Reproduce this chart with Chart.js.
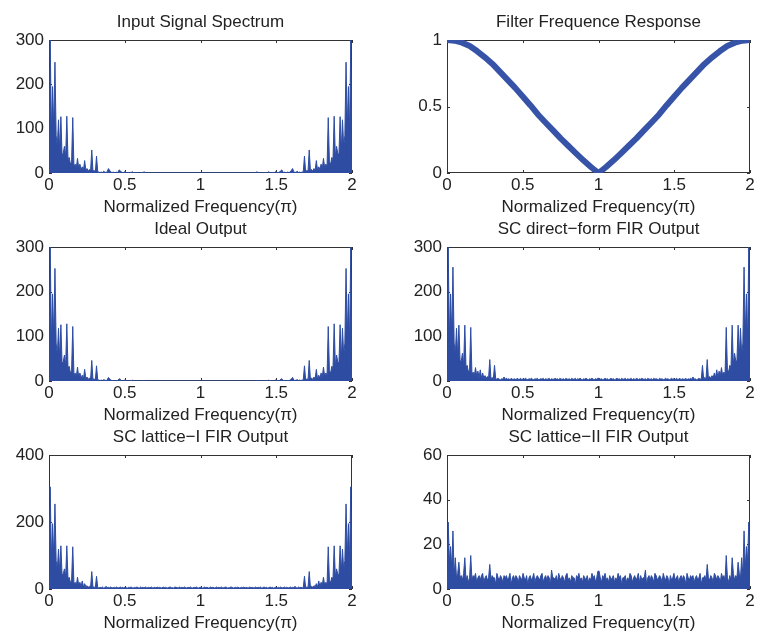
<!DOCTYPE html>
<html>
<head>
<meta charset="utf-8">
<script src="https://cdn.jsdelivr.net/npm/chart.js@4.4.1/dist/chart.umd.min.js"></script>
<style>
  body { margin: 0; background: #fff; width: 757px; height: 636px; position: relative; overflow: hidden; }
  canvas { position: absolute; }
</style>
</head>
<body>
<script>
// Ticks shared by all panels
const freqTicks = [0, 0.5, 1, 1.5, 2];
const freqLabel = 'Normalized Frequency(\u03c0)';

// Half spectra (0 .. 1), the picture is symmetric around 1
const inputHalf = [
  20, 300, 90, 195, 100, 250, 85, 60, 120, 50,
  127, 40, 45, 60, 35, 128, 30, 35, 20, 25,
  125, 15, 20, 12, 33, 10, 20, 8, 14, 6,
  28, 6, 10, 4, 8, 5, 52, 4, 6, 2,
  38, 3, 2, 1, 2, 1, 4, 2, 1, 3,
  10, 6, 2, 1, 2, 1, 0.5, 2, 1, 7,
  5, 2, 1, 0.5, 4, 1, 0.5, 1, 0.5, 0.5,
  3, 1, 0.5, 0.3, 0.5, 0.3, 0.5, 0.3, 1, 0.5,
  3, 0.5, 0.3, 0.2, 0.3, 0.2, 0.3, 0.2, 0.3, 0.2,
  0.3, 0.2, 0.3, 0.2, 0.3, 0.2, 0.3, 0.2, 0.3, 0.2,
  0.3, 0.2, 0.3, 0.2, 0.3, 0.2, 0.3, 0.2, 0.3, 0.2,
  0.3, 0.2, 0.3, 0.2, 0.3, 0.2, 0.3, 0.2, 0.3, 0.2,
  0.3, 0.2, 0.3, 0.2, 0.3, 0.2, 0.3, 0.2
];

const idealHalf = [
  20, 300, 85, 195, 95, 252, 85, 58, 118, 48,
  126, 40, 43, 58, 33, 128, 28, 33, 18, 23,
  122, 13, 18, 10, 31, 9, 18, 6, 13, 4,
  26, 5, 9, 3, 7, 4, 46, 3, 5, 2,
  34, 3, 2, 1, 2, 1, 3, 2, 1, 2,
  8, 5, 2, 1, 1, 1, 0.5, 1, 1, 5,
  4, 1, 0.5, 0.5, 3, 0.5, 0.3, 0.5, 0.3, 0.3,
  2, 0.5, 0.3, 0.2, 0.3, 0.2, 0.3, 0.2, 0.5, 0.3,
  1.5, 0.3, 0.2, 0.1, 0.2, 0.1, 0.2, 0.1, 0.2, 0.1,
  0.2, 0.1, 0.2, 0.1, 0.2, 0.1, 0.2, 0.1, 0.2, 0.1,
  0.2, 0.1, 0.2, 0.1, 0.2, 0.1, 0.2, 0.1, 0.2, 0.1,
  0.2, 0.1, 0.2, 0.1, 0.2, 0.1, 0.2, 0.1, 0.2, 0.1,
  0.2, 0.1, 0.2, 0.1, 0.2, 0.1, 0.2, 0.1
];

const directHalf = [
  25, 300, 90, 195, 100, 255, 85, 60, 118, 55,
  125, 45, 45, 62, 35, 125, 30, 35, 20, 25,
  120, 15, 20, 12, 30, 12, 22, 8, 25, 7,
  18, 7, 12, 6, 10, 6, 48, 5, 8, 5,
  35, 5, 4, 6, 4, 3, 5, 4, 9, 4,
  6, 4, 5, 3, 6, 4, 4, 5, 3, 6,
  4, 4, 6, 3, 5, 4, 6, 4, 3, 5,
  4, 6, 4, 3, 5, 4, 6, 3, 4, 5,
  4, 6, 3, 5, 4, 4, 6, 3, 5, 4,
  4, 6, 4, 5, 3, 6, 4, 4, 5, 3,
  6, 4, 4, 5, 3, 6, 4, 4, 6, 3,
  5, 4, 6, 4, 3, 5, 4, 6, 4, 3,
  5, 4, 6, 4, 3, 5, 4, 6
];

const latticeIHalf = [
  25, 305, 85, 195, 95, 254, 85, 58, 119, 52,
  129, 42, 45, 60, 35, 129, 30, 35, 20, 24,
  126, 15, 20, 11, 35, 11, 20, 8, 24, 6,
  16, 7, 10, 5, 8, 6, 52, 5, 6, 4,
  38, 5, 3, 5, 4, 6, 3, 4, 8, 4,
  5, 4, 6, 3, 4, 5, 4, 6, 3, 4,
  6, 4, 5, 3, 6, 4, 3, 5, 4, 6,
  4, 3, 5, 4, 6, 4, 3, 6, 4, 5,
  3, 6, 4, 4, 5, 3, 6, 4, 4, 5,
  3, 6, 4, 5, 4, 3, 6, 4, 5, 4,
  3, 5, 6, 4, 4, 3, 6, 5, 4, 4,
  6, 3, 5, 4, 6, 4, 3, 5, 4, 6,
  4, 3, 5, 4, 6, 4, 3, 5
];

const latticeIIHalf = [
  7, 30, 12, 19, 9, 26, 6, 14, 5, 7,
  12, 5, 6, 4, 7, 14, 4, 6, 3, 5,
  15, 4, 6, 5, 7, 3, 5, 6, 4, 6,
  7, 3, 5, 6, 4, 5, 11, 4, 6, 5,
  5, 2, 7, 5, 4, 6, 5, 3, 6, 5,
  6, 4, 5, 7, 2, 5, 6, 4, 6, 5,
  3, 6, 5, 4, 7, 5, 4, 6, 2, 5,
  6, 4, 5, 7, 3, 5, 6, 5, 4, 6,
  7, 3, 5, 6, 4, 6, 5, 2, 8.5, 5,
  5, 4, 6, 3, 7, 5, 4, 6, 5, 3,
  6, 7, 4, 5, 3, 6, 5, 5, 2, 6,
  5, 7, 4, 5, 3, 6, 5, 4, 6, 3,
  5, 4, 7, 5, 6, 3, 5, 8
];

// Filter magnitude, 0 .. 2 in steps of 0.05
const filterResponse = [
  1.0, 0.995, 0.98, 0.955, 0.915, 0.87, 0.82, 0.76, 0.70, 0.64,
  0.575, 0.51, 0.44, 0.38, 0.32, 0.26, 0.205, 0.15, 0.095, 0.045,
  0.0,
  0.045, 0.095, 0.15, 0.205, 0.26, 0.32, 0.38, 0.44, 0.51, 0.575,
  0.64, 0.70, 0.76, 0.82, 0.87, 0.915, 0.955, 0.98, 0.995, 1.0
];

const BLUE = '#2d4ca2';
const BLUE_THICK = '#3653a8';
const TEXT = '#222';
const FONT = '"Liberation Sans", Arial, Helvetica, sans-serif';

Chart.defaults.font.family = FONT;
Chart.defaults.font.size = 17;
Chart.defaults.color = TEXT;

const Y_AXIS_W = 49;
const PAD_TOP = 32;
const PAD_RIGHT = 12;
const PAD_BOTTOM = 45;

function mirror(half) {
  return half.concat(half.slice().reverse());
}

function toPoints(vals) {
  const n = vals.length;
  return vals.map((v, i) => ({ x: i * 2 / (n - 1), y: v }));
}

// Box, inward ticks, title and x label like a MATLAB subplot
const matlabAxes = {
  id: 'matlabAxes',
  beforeDatasetsDraw(chart) {
    const { ctx, chartArea: a, scales: { x, y } } = chart;
    ctx.save();
    ctx.strokeStyle = '#333';
    ctx.lineWidth = 1;
    ctx.strokeRect(a.left + 0.5, a.top + 0.5, a.right - a.left - 1, a.bottom - a.top - 1);
    ctx.beginPath();
    x.ticks.forEach(t => {
      const px = Math.round(x.getPixelForValue(t.value)) + 0.5;
      ctx.moveTo(px, a.bottom);
      ctx.lineTo(px, a.bottom - 3);
      ctx.moveTo(px, a.top);
      ctx.lineTo(px, a.top + 3);
    });
    y.ticks.forEach(t => {
      const py = Math.round(y.getPixelForValue(t.value)) + 0.5;
      ctx.moveTo(a.left, py);
      ctx.lineTo(a.left + 3, py);
      ctx.moveTo(a.right, py);
      ctx.lineTo(a.right - 3, py);
    });
    ctx.stroke();
    ctx.restore();
  },
  afterDraw(chart) {
    const { ctx, chartArea: a } = chart;
    const cx = (a.left + a.right) / 2;
    ctx.save();
    ctx.fillStyle = TEXT;
    ctx.font = '17px ' + FONT;
    ctx.textAlign = 'center';
    ctx.textBaseline = 'middle';
    ctx.fillText(chart.options.plugins.matlabAxes.title, cx, a.top - 17.5);
    ctx.fillText(freqLabel, cx, a.bottom + 34);
    ctx.restore();
  }
};

const panels = [
  { title: 'Input Signal Spectrum', left: 49, top: 40, w: 303, h: 133,
    values: mirror(inputHalf), yTicks: [0, 100, 200, 300], lw: 1, color: BLUE, fill: true },
  { title: 'Filter Frequence Response', left: 447, top: 40, w: 303, h: 133,
    values: filterResponse, yTicks: [0, 0.5, 1], lw: 6, color: BLUE_THICK, fill: false },
  { title: 'Ideal Output', left: 49, top: 247, w: 303, h: 134,
    values: mirror(idealHalf), yTicks: [0, 100, 200, 300], lw: 1, color: BLUE, fill: true },
  { title: 'SC direct\u2212form FIR Output', left: 447, top: 247, w: 303, h: 134,
    values: mirror(directHalf), yTicks: [0, 100, 200, 300], lw: 1, color: BLUE, fill: true },
  { title: 'SC lattice\u2212I FIR Output', left: 49, top: 455, w: 303, h: 134,
    values: mirror(latticeIHalf), yTicks: [0, 200, 400], lw: 1, color: BLUE, fill: true },
  { title: 'SC lattice\u2212II FIR Output', left: 447, top: 455, w: 303, h: 134,
    values: mirror(latticeIIHalf), yTicks: [0, 20, 40, 60], lw: 1, color: BLUE, fill: true }
];

panels.forEach(p => {
  const canvas = document.createElement('canvas');
  const cw = Y_AXIS_W + p.w + PAD_RIGHT;
  const ch = PAD_TOP + p.h + PAD_BOTTOM;
  canvas.width = cw;
  canvas.height = ch;
  canvas.style.width = cw + 'px';
  canvas.style.height = ch + 'px';
  canvas.style.left = (p.left - Y_AXIS_W) + 'px';
  canvas.style.top = (p.top - PAD_TOP) + 'px';
  document.body.appendChild(canvas);

  const yMax = p.yTicks[p.yTicks.length - 1];

  new Chart(canvas, {
    type: 'line',
    data: {
      datasets: [{
        data: toPoints(p.values),
        borderColor: p.color,
        backgroundColor: p.color,
        borderWidth: p.lw,
        borderCapStyle: 'round',
        borderJoinStyle: 'round',
        pointRadius: 0,
        tension: 0,
        fill: p.fill ? 'origin' : false
      }]
    },
    options: {
      responsive: false,
      animation: false,
      events: [],
      layout: { padding: { top: PAD_TOP, right: PAD_RIGHT, left: 0, bottom: 0 } },
      plugins: {
        legend: { display: false },
        tooltip: { enabled: false },
        matlabAxes: { title: p.title }
      },
      scales: {
        x: {
          type: 'linear',
          min: 0,
          max: 2,
          afterBuildTicks: s => { s.ticks = freqTicks.map(v => ({ value: v })); },
          afterFit: s => { s.height = PAD_BOTTOM; },
          grid: { display: false, drawTicks: false },
          border: { display: false },
          ticks: {
            padding: 2,
            autoSkip: false,
            maxRotation: 0,
            color: TEXT,
            callback: v => String(v)
          }
        },
        y: {
          type: 'linear',
          min: 0,
          max: yMax,
          afterBuildTicks: s => { s.ticks = p.yTicks.map(v => ({ value: v })); },
          afterFit: s => { s.width = Y_AXIS_W; },
          grid: { display: false, drawTicks: false },
          border: { display: false },
          ticks: {
            padding: 5,
            autoSkip: false,
            color: TEXT,
            callback: v => String(v)
          }
        }
      }
    },
    plugins: [matlabAxes]
  });
});
</script>
</body>
</html>
